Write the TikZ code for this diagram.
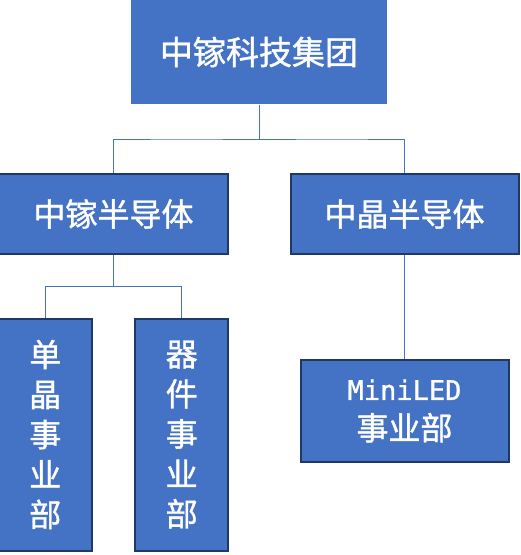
\documentclass[tikz,border=0pt]{standalone}
\usepackage{fontspec}
\setmainfont{Noto Sans CJK SC}[RawFeature={embolden=1.2}]
\newfontfamily\latinmono{DejaVu Sans Mono}[RawFeature={embolden=1.2}]
\usepackage{tikz}
\usetikzlibrary{shapes,arrows,positioning,calc}

\definecolor{boxblue}{HTML}{4472C4}
\definecolor{boxedge}{HTML}{1F3864}

\tikzset{
  unitbox/.style={fill=boxblue, draw=boxedge, line width=2pt, text=white,
    inner sep=0pt, align=center, font=\fontsize{32}{40}\selectfont},
  group/.style={unitbox, draw=none, minimum width=256pt, minimum height=104pt,
    font=\fontsize{33}{40}\selectfont},
  company/.style={unitbox, minimum width=228pt, minimum height=80pt},
  division/.style={unitbox, minimum width=93pt, minimum height=232pt},
  minibox/.style={unitbox, minimum width=208pt, minimum height=102pt}
}

\begin{document}
\begin{tikzpicture}[x=1pt,y=1pt,
    edge from parent/.style={draw=boxblue, line width=0.8pt},
    edge from parent path={(\tikzparentnode.south)
      |- ($(\tikzparentnode.south)!.5!(\tikzchildnode.north)$)
      -| (\tikzchildnode.north)},
    level 1/.style={level distance=162pt, sibling distance=291pt},
    level 2/.style={level distance=220.5pt, sibling distance=136.5pt}]
    \useasboundingbox (0,0) rectangle (521,-555);
    \node[group] (zjkj) at (259,-52) {中镓科技集团}
      child {
        node[company] (zjbdt) {中镓半导体}
        child { node[division] (djsyb) {单\\晶\\事\\业\\部} }
        child { node[division] (qjsyb) {器\\件\\事\\业\\部} }
      }
      child {
        node[company] (zjingbdt) {中晶半导体}
        child[level distance=197pt] {
          node[minibox] (minisyb) {{\latinmono\fontsize{27}{40}\selectfont MiniLED}\\事业部}
        }
      }
    ;
\end{tikzpicture}
\end{document}
